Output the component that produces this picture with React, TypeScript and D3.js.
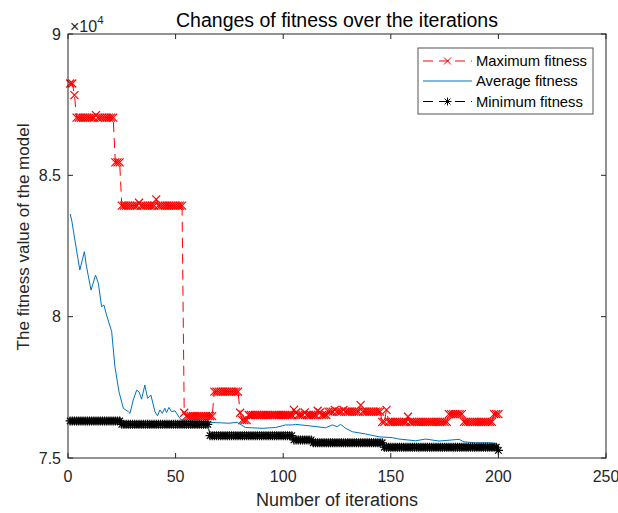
import React from "react";
import * as d3 from "d3";

const W = 618;
const H = 513;
const margin = { left: 68, top: 34, right: 12, bottom: 55 };

const titleText = "Changes of fitness over the iterations";
const xLabel = "Number of iterations";
const yLabel = "The fitness value of the model";
const xTicks = [0, 50, 100, 150, 200, 250];
const yTicks = [75000, 80000, 85000, 90000];
const yTickLabels = ["7.5", "8", "8.5", "9"];
const seriesNames = ["Maximum fitness", "Average fitness", "Minimum fitness"];

const maxFitness = [
  88250, 88250, 87840, 87040, 87040, 87040, 87040, 87040, 87040, 87040,
  87040, 87040, 87130, 87040, 87040, 87040, 87040, 87040, 87040, 87040,
  87040, 85460, 85460, 85460, 83930, 83930, 83930, 83930, 83930, 83930,
  83930, 83930, 84030, 83930, 83930, 83930, 83930, 83930, 83930, 83930,
  84150, 83930, 83930, 83930, 83930, 83930, 83930, 83930, 83930, 83930,
  83930, 83930, 83930, 76600, 76480, 76480, 76480, 76480, 76480, 76480,
  76480, 76480, 76480, 76480, 76480, 76480, 76480, 77350, 77350, 77350,
  77350, 77350, 77350, 77350, 77350, 77350, 77350, 77350, 77350, 76600,
  76340, 76340, 76340, 76520, 76520, 76520, 76520, 76520, 76520, 76520,
  76520, 76520, 76520, 76520, 76520, 76520, 76520, 76520, 76520, 76520,
  76520, 76520, 76520, 76520, 76700, 76610, 76520, 76520, 76520, 76610,
  76520, 76520, 76520, 76520, 76520, 76670, 76610, 76520, 76520, 76520,
  76640, 76640, 76640, 76700, 76640, 76640, 76640, 76700, 76640, 76640,
  76640, 76640, 76640, 76640, 76640, 76870, 76640, 76640, 76640, 76640,
  76640, 76640, 76640, 76640, 76640, 76280, 76280, 76700, 76280, 76280,
  76280, 76280, 76280, 76280, 76280, 76280, 76280, 76460, 76280, 76280,
  76280, 76280, 76280, 76280, 76280, 76280, 76280, 76280, 76280, 76280,
  76280, 76280, 76280, 76280, 76280, 76280, 76550, 76550, 76550, 76550,
  76550, 76550, 76550, 76280, 76280, 76280, 76280, 76280, 76280, 76280,
  76280, 76280, 76280, 76280, 76280, 76280, 76280, 76550, 76550, 76550,
];

const minFitness = [
  76310, 76310, 76310, 76310, 76310, 76310, 76310, 76310, 76310, 76310,
  76310, 76310, 76310, 76310, 76310, 76310, 76310, 76310, 76310, 76310,
  76310, 76310, 76310, 76310, 76190, 76190, 76190, 76190, 76190, 76190,
  76190, 76190, 76190, 76190, 76190, 76190, 76190, 76190, 76190, 76190,
  76190, 76190, 76190, 76190, 76190, 76190, 76190, 76190, 76190, 76190,
  76190, 76190, 76190, 76190, 76190, 76190, 76190, 76190, 76190, 76190,
  76190, 76190, 76190, 76190, 76190, 75790, 75790, 75790, 75790, 75790,
  75790, 75790, 75790, 75790, 75790, 75790, 75790, 75790, 75790, 75790,
  75790, 75790, 75790, 75790, 75790, 75790, 75790, 75790, 75790, 75790,
  75790, 75790, 75790, 75790, 75790, 75790, 75790, 75790, 75790, 75790,
  75790, 75790, 75790, 75790, 75640, 75640, 75640, 75640, 75640, 75640,
  75640, 75640, 75640, 75540, 75540, 75540, 75540, 75540, 75540, 75540,
  75540, 75540, 75540, 75540, 75540, 75540, 75540, 75540, 75540, 75540,
  75540, 75540, 75540, 75540, 75540, 75540, 75540, 75540, 75540, 75540,
  75540, 75540, 75540, 75540, 75540, 75540, 75380, 75380, 75380, 75380,
  75380, 75380, 75380, 75380, 75380, 75380, 75380, 75380, 75380, 75380,
  75380, 75380, 75380, 75380, 75380, 75380, 75380, 75380, 75380, 75380,
  75380, 75380, 75380, 75380, 75380, 75380, 75380, 75380, 75380, 75380,
  75380, 75380, 75380, 75380, 75380, 75380, 75380, 75380, 75380, 75380,
  75380, 75380, 75380, 75380, 75380, 75380, 75380, 75380, 75380, 75270,
];

// Average fitness read as (iteration, value) points along the curve
const avgIter = [
  1, 1.7, 3.2, 5.5, 7.6, 8.6, 10.7, 12.8, 14.1, 15.6, 16.7, 17.9, 20.3, 21.8, 23.7,
  25.7, 28, 28.8, 30.3, 31.9, 33, 34.2, 35.7, 37, 38.5, 40.4, 41.6, 42.7, 43.8, 45,
  45.8, 46.9, 48.1, 49.7, 52, 53.1, 65.5, 66.3, 74.8, 78.6, 82.5, 90.3, 96.5, 101.1,
  104.2, 105.7, 112, 119.7, 122.8, 125.1, 126.7, 129, 132.1, 138.3, 144.5, 150.7,
  153.8, 161.5, 166.2, 172.4, 181.7, 184, 189.4, 195.5, 198.7, 200,
];
const avgFitness = [
  83630, 83420, 82710, 81650, 82300, 81770, 80940, 81470, 81180, 80350, 80410, 80060, 79470, 78230, 77340,
  76760, 76640, 76580, 77050, 77400, 77340, 77080, 77580, 77110, 77230, 76640, 76490, 76700, 76580, 76760,
  76610, 76790, 76640, 76670, 76400, 76320, 76280, 76260, 76230, 76260, 76080, 76050, 76080, 76170,
  76170, 76190, 76140, 76070, 76170, 76110, 76190, 76050, 75930, 75850, 75750, 75720,
  75670, 75610, 75670, 75600, 75660, 75570, 75540, 75540, 75520, 75400,
];

const FONT = "'Liberation Sans', Arial, Helvetica, sans-serif";
const TXT = "#262626";
const RED = "#ff0000";
const BLUE = "#0072bd";

function XMark({ x, y, s, color, w = 1 }: { x: number; y: number; s: number; color: string; w?: number }) {
  return (
    <path
      d={`M${x - s},${y - s}L${x + s},${y + s}M${x - s},${y + s}L${x + s},${y - s}`}
      stroke={color}
      strokeWidth={w}
      fill="none"
    />
  );
}

function StarMark({ x, y, s, color, w = 1 }: { x: number; y: number; s: number; color: string; w?: number }) {
  const d = s * 0.72;
  return (
    <path
      d={`M${x - s},${y}L${x + s},${y}M${x},${y - s}L${x},${y + s}M${x - d},${y - d}L${x + d},${y + d}M${x - d},${y + d}L${x + d},${y - d}`}
      stroke={color}
      strokeWidth={w}
      fill="none"
    />
  );
}

export default function App() {
  const x0 = margin.left;
  const x1 = W - margin.right;
  const y0 = margin.top;
  const y1 = H - margin.bottom;

  const x = d3.scaleLinear().domain([0, 250]).range([x0, x1]);
  const y = d3.scaleLinear().domain([75000, 90000]).range([y1, y0]);

  const iters = maxFitness.map((_, i) => i + 1);
  const line = d3
    .line<[number, number]>()
    .x((d) => x(d[0]))
    .y((d) => y(d[1]));

  const maxPts: [number, number][] = iters.map((it, i) => [it, maxFitness[i]]);
  const minPts: [number, number][] = iters.map((it, i) => [it, minFitness[i]]);
  const avgPts: [number, number][] = avgIter.map((it, i) => [it, avgFitness[i]]);

  const tickLen = 5;
  const legX = 418;
  const legY = 48;
  const legW = 175;
  const legH = 66;
  const rows = [61, 81, 101.5];

  return (
    <div style={{ position: "absolute", left: 0, top: 0 }}>
      <svg width={W} height={H} style={{ display: "block", background: "#fff" }} fontFamily={FONT}>
        <rect x={0} y={0} width={W} height={H} fill="#fff" />
        {/* title */}
        <text x={(x0 + x1) / 2} y={27} textAnchor="middle" fontSize={19.5} fill="#000">
          {titleText}
        </text>

        {/* data */}
        <g>
          <path d={line(maxPts) || ""} stroke={RED} strokeWidth={1} fill="none" strokeDasharray="10 6" />
          {maxPts.map((p, i) => (
            <XMark key={"mx" + i} x={x(p[0])} y={y(p[1])} s={4} color={RED} w={1.2} />
          ))}
          <path d={line(avgPts) || ""} stroke={BLUE} strokeWidth={1} fill="none" />
          <path d={line(minPts) || ""} stroke="#000" strokeWidth={1} fill="none" strokeDasharray="10 6" />
          {minPts.map((p, i) => (
            <StarMark key={"mn" + i} x={x(p[0])} y={y(p[1])} s={4.5} color="#000" w={1.2} />
          ))}
        </g>

        {/* axes box */}
        <rect x={x0} y={y0} width={x1 - x0} height={y1 - y0} fill="none" stroke={TXT} strokeWidth={1} />
        {xTicks.map((t) => (
          <g key={"xt" + t}>
            <line x1={x(t)} x2={x(t)} y1={y1} y2={y1 - tickLen} stroke={TXT} />
            <line x1={x(t)} x2={x(t)} y1={y0} y2={y0 + tickLen} stroke={TXT} />
            <text x={x(t)} y={482} textAnchor="middle" fontSize={16} fill={TXT}>
              {t}
            </text>
          </g>
        ))}
        {yTicks.map((t, i) => (
          <g key={"yt" + t}>
            <line x1={x0} x2={x0 + tickLen} y1={y(t)} y2={y(t)} stroke={TXT} />
            <line x1={x1} x2={x1 - tickLen} y1={y(t)} y2={y(t)} stroke={TXT} />
            <text x={61} y={y(t) + 5.5} textAnchor="end" fontSize={16} fill={TXT}>
              {yTickLabels[i]}
            </text>
          </g>
        ))}
        {/* exponent */}
        <text x={70} y={32} fontSize={16} fill={TXT}>
          ×10
          <tspan dy={-8} fontSize={11.5}>4</tspan>
        </text>

        {/* axis labels */}
        <text x={(x0 + x1) / 2} y={506} textAnchor="middle" fontSize={18} fill={TXT}>
          {xLabel}
        </text>
        <text
          transform={`translate(29,${(y0 + y1) / 2 - 9}) rotate(-90)`}
          textAnchor="middle"
          fontSize={17}
          fill={TXT}
        >
          {yLabel}
        </text>

        {/* legend */}
        <rect x={legX} y={legY} width={legW} height={legH} fill="#fff" stroke="#555" strokeWidth={1} />
        <line x1={423} x2={472} y1={rows[0]} y2={rows[0]} stroke={RED} strokeDasharray="10 6" />
        <XMark x={447.5} y={rows[0]} s={3.5} color={RED} />
        <line x1={423} x2={472} y1={rows[1]} y2={rows[1]} stroke={BLUE} />
        <line x1={423} x2={472} y1={rows[2]} y2={rows[2]} stroke="#000" strokeDasharray="10 6" />
        <StarMark x={447.5} y={rows[2]} s={4} color="#000" />
        {seriesNames.map((n, i) => (
          <text key={n} x={476} y={rows[i] + 5} fontSize={14.8} fill="#000">
            {n}
          </text>
        ))}
      </svg>
    </div>
  );
}
